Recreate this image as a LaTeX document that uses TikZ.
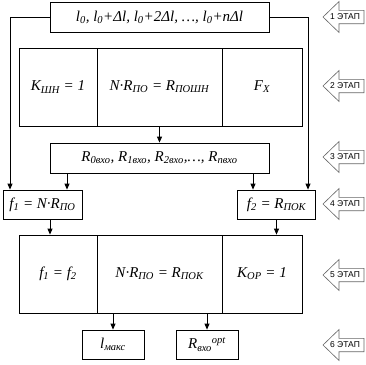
\documentclass[tikz,border=0pt]{standalone}
\usepackage{fontspec}
\setmainfont{Liberation Serif}
\newfontfamily\stagefont{Liberation Sans}
\usetikzlibrary{arrows.meta}
\usetikzlibrary{positioning}

\tikzset{
  cell/.style={draw, line width=0.8pt, inner sep=0pt, font=\fontsize{15}{17}\selectfont\itshape},
  wide/.style={cell, minimum width=219pt, minimum height=30pt},
  tall/.style={cell, minimum height=78pt},
  small/.style={cell, minimum height=29pt},
  link/.style={line width=0.8pt, -{Triangle[length=6pt,width=5pt]}},
  stagearrow/.style={draw=black!60, line width=0.6pt, fill=white},
  stagetext/.style={inner sep=0pt, font=\stagefont\fontsize{8.5}{10}\selectfont}
}

\begin{document}
\begin{tikzpicture}[x=1pt, y=-1pt]
      \useasboundingbox (0,0) rectangle (366,364);

      % stage 1
      \node [wide] (lrow) at (159.5,17) {l\textsubscript{0}, l\textsubscript{0}+Δl, l\textsubscript{0}+2Δl, …, l\textsubscript{0}+nΔl};
      % stage 2
      \node [tall, minimum width=78pt] (kshn) at (58,87) {K\textsubscript{ШН} = 1};
      \node [tall, minimum width=125pt] (nrpo) at (159.5,87) {N·R\textsubscript{ПО} = R\textsubscript{ПОШН}};
      \node [tall, minimum width=80pt] (fx) at (262,87) {F\textsubscript{X}};
      % stage 3
      \node [wide] (rin) at (159.5,158) {R\textsubscript{0вхо}, R\textsubscript{1вхо}, R\textsubscript{2вхо},…, R\textsubscript{nвхо}};
      % stage 4
      \node [small, minimum width=79pt] (fone) at (42.5,204.5) {f\textsubscript{1} = N·R\textsubscript{ПО}};
      \node [small, minimum width=78pt] (ftwo) at (276.5,204.5) {f\textsubscript{2} = R\textsubscript{ПОК}};
      % stage 5
      \node [tall, minimum width=78pt] (feq) at (58,274) {f\textsubscript{1} = f\textsubscript{2}};
      \node [tall, minimum width=125pt] (nrpok) at (159.5,274) {N·R\textsubscript{ПО} = R\textsubscript{ПОК}};
      \node [tall, minimum width=80pt] (kor) at (262,274) {K\textsubscript{ОР} = 1};
      % stage 6
      \node [small, minimum width=62pt] (lmax) at (113,344.5) {l\textsubscript{макс}};
      \node [small, minimum width=62pt] (ropt) at (207,344.5) {R\textsubscript{вхо}\textsuperscript{opt}};

      \coordinate (lcorner) at (10,17);
      \coordinate (rcorner) at (308,17);
      \draw [link] (lrow.west) -- (lcorner) -- (lcorner |- fone.north);
      \draw [link] (lrow.east) -- (rcorner) -- (rcorner |- ftwo.north);
      \draw [link] (nrpo.south) -- (rin.north);
      \draw [link] (67,0 |- rin.south) -- (67,0 |- fone.north);
      \draw [link] (253,0 |- rin.south) -- (253,0 |- ftwo.north);
      \draw [link] (50,0 |- fone.south) -- (50,0 |- feq.north);
      \draw [link] (ftwo.south) -- (ftwo.south |- kor.north);
      \draw [link] (lmax.north |- nrpok.south) -- (lmax.north);
      \draw [link] (ropt.north |- nrpok.south) -- (ropt.north);

      \foreach \n/\y in {1/17,2/86,3/157,4/204,5/275,6/345}{
        \draw [stagearrow] (323,\y) -- (339,\y-15.5) -- (339,\y-6.7) -- (364,\y-6.7)
          -- (364,\y+6.7) -- (339,\y+6.7) -- (339,\y+15.5) -- cycle;
        \node [stagetext] (stage\n) at (345,\y) {\n~ЭТАП};
      }
    \end{tikzpicture}
\end{document}
